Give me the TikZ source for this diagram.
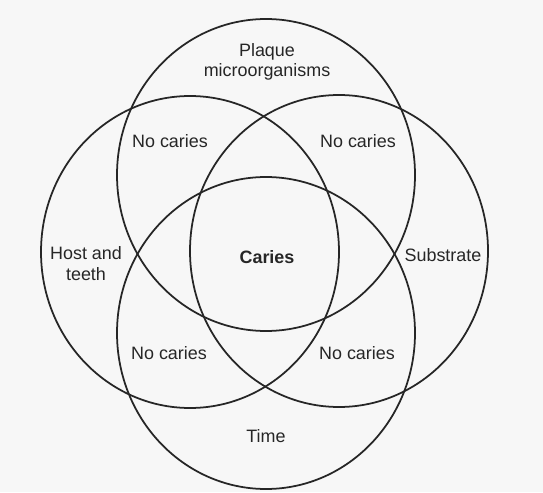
\documentclass[tikz,border=0pt]{standalone}
\usepackage{fontspec}
\setmainfont{Liberation Sans}
\begin{document}
\begin{tikzpicture}[line width=1pt,
    lbl/.style={font=\fontsize{10.2}{11.6}\selectfont,align=center,text=black!85}]
  \useasboundingbox[fill=black!3] (0,0) rectangle (10.86,9.84);
  % the four factors
  \draw[black!85] (5.32,6.34) ellipse [x radius=2.98, y radius=3.12];
  \draw[black!85] (3.80,4.80) ellipse [x radius=2.98, y radius=3.12];
  \draw[black!85] (6.78,4.82) ellipse [x radius=2.98, y radius=3.12];
  \draw[black!85] (5.32,3.18) ellipse [x radius=2.98, y radius=3.12];
  \node[lbl] (plaque) at (5.34,8.60) {Plaque\\microorganisms};
  \node[lbl] (host) at (1.72,4.57) {Host and\\teeth};
  \node[lbl] (substrate) at (8.86,4.74) {Substrate};
  \node[lbl] (time) at (5.32,1.12) {Time};
  \node[lbl,font=\fontsize{10.2}{11.6}\selectfont\bfseries] (caries) at (5.34,4.70) {Caries};
  \node[lbl] (nctl) at (3.40,7.02) {No caries};
  \node[lbl] (nctr) at (7.16,7.02) {No caries};
  \node[lbl] (ncbl) at (3.38,2.78) {No caries};
  \node[lbl] (ncbr) at (7.14,2.78) {No caries};
\end{tikzpicture}
\end{document}
